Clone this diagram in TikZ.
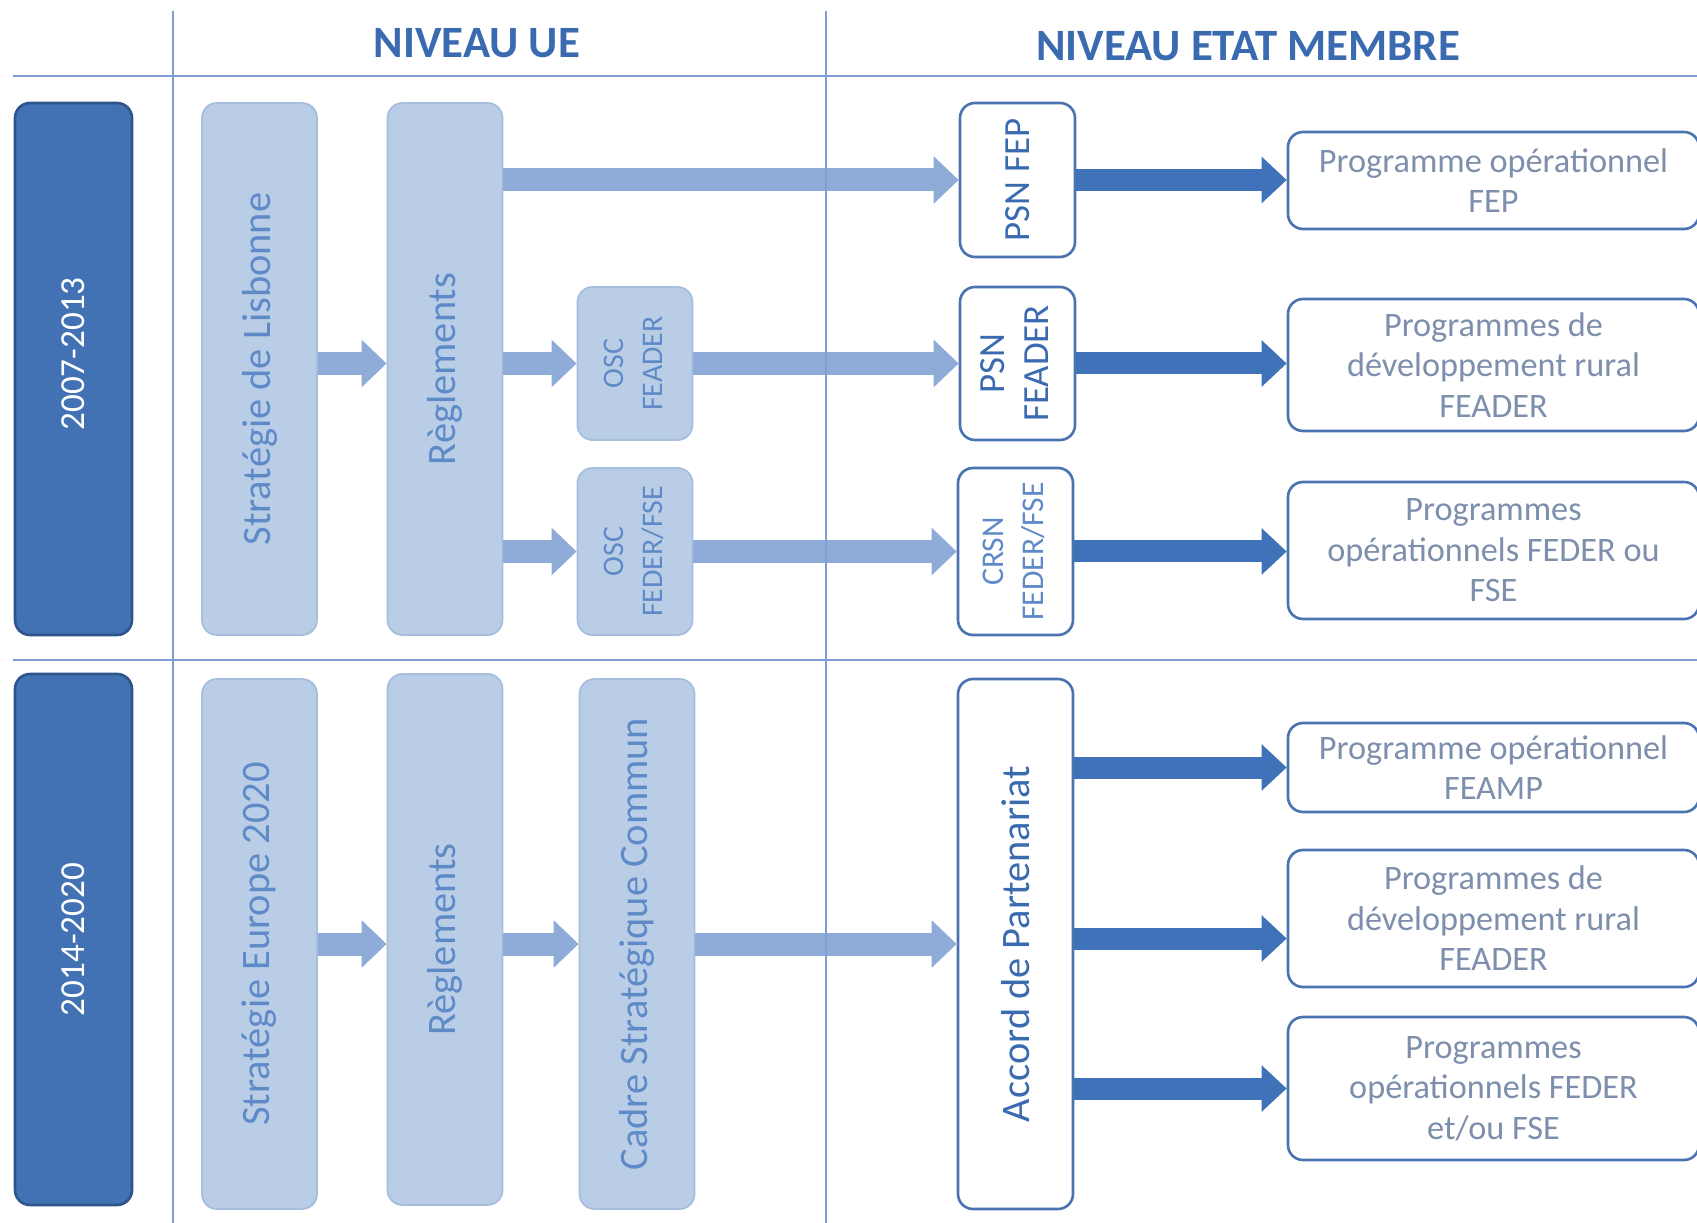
\documentclass[tikz,border=0pt]{standalone}
\usepackage{fontspec}
\setmainfont{Carlito}
\usepackage{tikz}
\usetikzlibrary{arrows.meta}
\usepackage{xcolor}
\definecolor{yearblue}{RGB}{66,114,180}
\definecolor{yearedge}{RGB}{45,85,140}
\definecolor{palefill}{RGB}{185,205,230}
\definecolor{paleedge}{RGB}{165,190,222}
\definecolor{paletext}{RGB}{95,138,200}
\definecolor{palearrow}{RGB}{142,172,215}
\definecolor{darkarrow}{RGB}{63,114,184}
\definecolor{boxedge}{RGB}{74,116,176}
\definecolor{headblue}{RGB}{58,106,175}
\definecolor{rulecol}{RGB}{125,160,210}
\definecolor{greytext}{RGB}{125,143,172}

\begin{document}
\begin{tikzpicture}[
    head/.style={text=headblue, font=\fontsize{25.5}{30}\selectfont\bfseries},
    yearbox/.style={draw=yearedge, line width=1.5pt, fill=yearblue, rounded corners=0.3cm,
      minimum width=2.34cm, inner sep=0pt, text=white, font=\fontsize{20}{24}\selectfont},
    palebox/.style={draw=paleedge, line width=1pt, fill=palefill, rounded corners=0.3cm,
      minimum width=2.3cm, inner sep=0pt, text=paletext, font=\fontsize{23}{27}\selectfont},
    oscbox/.style={palebox, font=\fontsize{17}{22}\selectfont},
    whitebox/.style={draw=boxedge, line width=1.5pt, fill=white, rounded corners=0.3cm,
      minimum width=2.3cm, inner sep=0pt, text=headblue, font=\fontsize{21}{25}\selectfont},
    progbox/.style={whitebox, minimum width=8.22cm, align=center, text=greytext,
      font=\fontsize{19.5}{23}\selectfont},
    palearr/.style={draw=palearrow, line width=0.46cm, -{Triangle[length=0.5cm, width=0.92cm]}},
    darkarr/.style={draw=darkarrow, line width=0.44cm, -{Triangle[length=0.5cm, width=0.9cm]}},
    rule/.style={draw=rulecol, line width=0.9pt}
  ]
\useasboundingbox (0,0) rectangle (33.94,-24.46);

% headings
\node[head] (ue) at (9.54,-0.87) {NIVEAU UE};
\node[head] (em) at (24.96,-0.93) {NIVEAU ETAT MEMBRE};

% periods
\node[yearbox, minimum height=10.64cm] (yA) at (1.47,-7.38) {\rotatebox{90}{\hspace{0.6cm}2007-2013}};
\node[yearbox, minimum height=10.62cm] (yB) at (1.47,-18.79) {\rotatebox{90}{2014-2020}};

% 2007-2013, niveau UE
\node[palebox, minimum height=10.64cm] (lisb) at (5.19,-7.38) {\rotatebox{90}{Stratégie de Lisbonne}};
\node[palebox, minimum height=10.64cm] (regA) at (8.9,-7.38) {\rotatebox{90}{Règlements}};
\node[oscbox, minimum height=3.06cm] (oscA) at (12.7,-7.27)
  {\rotatebox{90}{\begin{tabular}{@{}c@{}}OSC\\FEADER\end{tabular}}};
\node[oscbox, minimum height=3.34cm] (oscB) at (12.7,-11.03)
  {\rotatebox{90}{\begin{tabular}{@{}c@{}}OSC\\FEDER/FSE\end{tabular}}};

% 2014-2020, niveau UE
\node[palebox, minimum height=10.6cm] (eur) at (5.19,-18.88) {\rotatebox{90}{Stratégie Europe 2020}};
\node[palebox, minimum height=10.62cm] (regB) at (8.9,-18.79) {\rotatebox{90}{Règlements}};
\node[palebox, minimum height=10.6cm] (csc) at (12.74,-18.88) {\rotatebox{90}{Cadre Stratégique Commun}};

% niveau etat membre
\node[whitebox, minimum height=3.08cm] (psnA) at (20.35,-3.6) {\rotatebox{90}{PSN FEP}};
\node[whitebox, minimum height=3.06cm] (psnB) at (20.35,-7.27)
  {\rotatebox{90}{\begin{tabular}{@{}c@{}}PSN\\FEADER\end{tabular}}};
\node[whitebox, minimum height=3.34cm, text=paletext, font=\fontsize{18}{23}\selectfont] (crsn) at (20.31,-11.03)
  {\rotatebox{90}{\begin{tabular}{@{}c@{}}CRSN\\FEDER/FSE\end{tabular}}};
\node[whitebox, minimum height=10.6cm, font=\fontsize{23}{27}\selectfont] (accord) at (20.31,-18.88)
  {\rotatebox{90}{Accord de Partenariat}};

% programmes
\node[progbox, minimum height=1.94cm] (prgA) at (29.87,-3.61) {Programme opérationnel\\FEP};
\node[progbox, minimum height=2.64cm] (prgB) at (29.87,-7.3) {Programmes de\\développement rural\\FEADER};
\node[progbox, minimum height=2.74cm] (prgC) at (29.87,-11.01) {Programmes\\opérationnels FEDER ou\\FSE};
\node[progbox, minimum height=1.78cm] (prgD) at (29.87,-15.35) {Programme opérationnel\\FEAMP};
\node[progbox, minimum height=2.74cm] (prgE) at (29.87,-18.37) {Programmes de\\développement rural\\FEADER};
\node[progbox, minimum height=2.86cm] (prgF) at (29.87,-21.77) {Programmes\\opérationnels FEDER\\et/ou FSE};

% light arrows
\draw[palearr] (lisb.east |- oscA.west) -- (regA.west |- oscA.west);
\draw[palearr] (regA.east |- psnA.west) -- (psnA.west);
\draw[palearr] (regA.east |- oscA.west) -- (oscA.west);
\draw[palearr] (oscA.east) -- (oscA.east -| psnB.west);
\draw[palearr] (regA.east |- oscB.west) -- (oscB.west);
\draw[palearr] (oscB.east) -- (oscB.east -| crsn.west);
\draw[palearr] (eur.east) -- (eur.east -| regB.west);
\draw[palearr] (regB.east |- csc.west) -- (csc.west);
\draw[palearr] (csc.east) -- (csc.east -| accord.west);

% dark arrows
\draw[darkarr] (psnA.east) -- (psnA.east -| prgA.west);
\draw[darkarr] (psnB.east) -- (psnB.east -| prgB.west);
\draw[darkarr] (crsn.east) -- (crsn.east -| prgC.west);
\draw[darkarr] (accord.east |- prgD.west) -- (prgD.west);
\coordinate (tipE) at ([yshift=-0.4cm]prgE.west);
\draw[darkarr] (accord.east |- tipE) -- (tipE);
\draw[darkarr] (accord.east |- prgF.west) -- (prgF.west);

% grid
\draw[rule] (0.26,-1.52) -- (33.94,-1.52);
\draw[rule] (0.26,-13.2) -- (33.94,-13.2);
\draw[rule] (3.46,-0.22) -- (3.46,-24.46);
\draw[rule] (16.52,-0.22) -- (16.52,-24.46);
\end{tikzpicture}
\end{document}
